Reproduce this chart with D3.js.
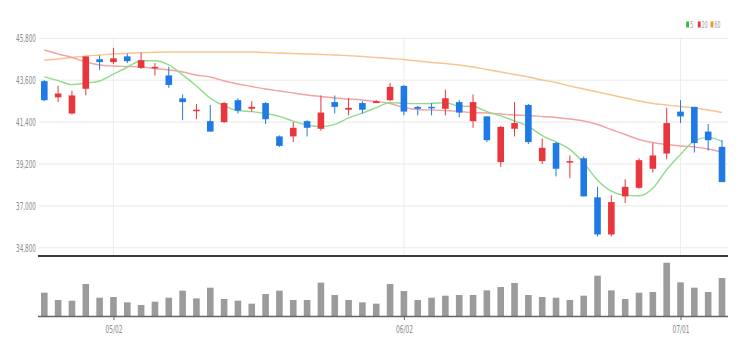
<!DOCTYPE html>
<html><head><meta charset="utf-8">
<script src="https://cdn.jsdelivr.net/npm/d3@7"></script>
<style>
html,body{margin:0;padding:0;background:#fff;}
svg{display:block;}
text{font-family:"Liberation Sans Narrow","DejaVu Sans Condensed","Liberation Sans",sans-serif;}
</style></head>
<body>
<svg id="chart" width="744" height="355"></svg>
<script>
const dates = ["04/25","04/26","04/27","04/28","04/29","05/02","05/03","05/04","05/06","05/09","05/10","05/11","05/12","05/13","05/16","05/17","05/18","05/19","05/20","05/23","05/24","05/25","05/26","05/27","05/30","05/31","06/02","06/03","06/07","06/08","06/09","06/10","06/13","06/14","06/15","06/16","06/17","06/20","06/21","06/22","06/23","06/24","06/27","06/28","06/29","06/30","07/01","07/04","07/05","07/06"];
const openP  = [43550,42700,41850,43150,44700,44550,44850,44250,44250,43850,42650,42000,41450,41400,42550,42100,42400,40650,40650,41450,41050,42450,42050,42400,42400,42550,43300,42200,42200,42100,42450,41450,41700,39300,41050,42300,39350,40300,39300,39500,37450,35500,37500,37950,38950,39750,41950,42200,40900,40100];
const highP  = [43600,43300,43050,44850,44900,45300,45000,45050,44500,44300,42850,42350,42300,42450,42650,42500,42450,40700,41400,41500,42800,42800,42650,42500,42550,43450,43350,42250,42400,43100,42550,42850,41700,41200,42450,42350,40550,40350,39650,39600,38000,37550,38400,39500,40300,42150,42550,42200,41300,40450];
const lowP   = [42500,42450,41800,42800,44150,44450,44500,44200,43850,43200,41500,41550,40900,41350,41850,41950,41300,40100,40350,40650,40950,41850,41750,41850,42400,42500,41750,41750,41750,41750,41650,41100,40350,39050,40650,40250,39200,38550,38450,37500,35400,35400,37150,37900,38750,39450,41350,39800,39900,38250];
const closeP = [42550,42900,42800,44850,44550,44750,44600,44650,44300,43350,42450,42050,40900,42400,42000,42200,41550,40150,41100,41100,41900,42200,42150,42050,42500,43250,41950,42100,42150,42650,41900,42450,40450,41150,41350,40350,40050,38950,39350,37500,35500,37200,38000,39400,39650,41350,41700,40300,40450,38250];
const volume = [700,480,460,960,550,570,410,330,430,550,760,530,850,510,460,370,660,760,480,480,1000,630,480,410,370,960,750,480,550,610,630,630,770,870,990,630,570,550,480,610,1210,770,510,700,720,1600,1010,850,720,1140];
const ma5  = [43780,43580,43370,43450,43560,43920,44280,44620,44620,44400,43880,43300,42650,42250,42000,41950,41850,41700,41450,41250,41160,41280,41620,41875,42160,42420,42390,42370,42380,42420,42240,42220,41950,41725,41465,41170,40690,40360,39970,39250,38350,37770,37550,37530,37930,38900,39700,40420,40600,40390];
const ma20 = [45186,44976,44792,44556,44398,44346,44320,44293,44215,44136,44031,43873,43768,43558,43401,43270,43138,43033,42928,42823,42745,42666,42613,42561,42482,42377,42167,42062,42036,42010,41957,41904,41878,41826,41773,41747,41694,41642,41563,41458,41274,41012,40749,40487,40329,40224,40146,40093,39988,39831];
const ma60 = [44661,44713,44792,44871,44923,44976,45012,45044,45070,45081,45081,45081,45081,45081,45081,45081,45054,45028,45002,44976,44949,44923,44886,44844,44792,44739,44687,44608,44529,44477,44398,44293,44162,44031,43900,43768,43611,43479,43296,43138,42981,42823,42666,42508,42377,42298,42219,42141,42036,41904];
const priceTicks = [34800,37000,39200,41400,43600,45800];
const dateTicks = ["05/02","06/02","07/01"];
const maNames = ["5","20","60"];

const svg = d3.select("#chart");
const left = 39, right = 728;
const x = d3.scalePoint().domain(dates).range([44.3, 722]);
const y = d3.scaleLinear().domain([34800, 45800]).range([247.8, 38.3]);
const yv = d3.scaleLinear().domain([0, 1600]).range([316, 262.7]);
const UP = "#e8363c", DOWN = "#1f7ae6";
const maColors = ["#8fdc8a", "#f4a2a2", "#f8c48f"];

// horizontal grid
svg.append("g").selectAll("line").data(priceTicks).join("line")
  .attr("x1", left).attr("x2", right)
  .attr("y1", d => y(d)).attr("y2", d => y(d))
  .attr("stroke", "#e9e9e9").attr("stroke-width", 1);
// vertical grid
svg.append("g").selectAll("line").data(dateTicks).join("line")
  .attr("x1", d => x(d)).attr("x2", d => x(d))
  .attr("y1", 38).attr("y2", 255)
  .attr("stroke", "#ececec").attr("stroke-width", 1);

// price axis labels
const yAxis = d3.axisLeft(y).tickValues(priceTicks).tickFormat(d3.format(",")).tickSize(0).tickPadding(0);
const ya = svg.append("g").attr("transform", "translate(36,0)").call(yAxis);
ya.select(".domain").remove();
ya.selectAll("text").attr("fill", "#8a8a8a").attr("font-size", "10px")
  .attr("textLength", 20).attr("lengthAdjust", "spacingAndGlyphs");

// MA lines
[ma60, ma20, ma5].forEach((arr, k) => {
  const col = [maColors[2], maColors[1], maColors[0]][k];
  svg.append("path").datum(arr)
    .attr("fill", "none").attr("stroke", col).attr("stroke-width", 1.4)
    .attr("d", d3.line().x((d, i) => x(dates[i])).y(d => y(d)).curve(d3.curveMonotoneX));
});

// candles
const cw = 6.6;
const cg = svg.append("g");
dates.forEach((d, i) => {
  const up = closeP[i] >= openP[i];
  const col = up ? UP : DOWN;
  cg.append("line").attr("x1", x(d)).attr("x2", x(d))
    .attr("y1", y(highP[i])).attr("y2", y(lowP[i]))
    .attr("stroke", col).attr("stroke-width", 1);
  const top = y(Math.max(openP[i], closeP[i]));
  const bot = y(Math.min(openP[i], closeP[i]));
  cg.append("rect").attr("x", x(d) - cw / 2).attr("y", top)
    .attr("width", cw).attr("height", Math.max(1.5, bot - top)).attr("fill", col);
});

// separator line
svg.append("line").attr("x1", 38).attr("x2", right).attr("y1", 256).attr("y2", 256)
  .attr("stroke", "#3a3a3a").attr("stroke-width", 2);

// volume bars
svg.append("g").selectAll("rect").data(volume).join("rect")
  .attr("x", (d, i) => x(dates[i]) - cw / 2).attr("y", d => yv(d))
  .attr("width", cw).attr("height", d => 316 - yv(d))
  .attr("fill", "#9b9b9b");

// volume baseline + x axis
const xAxis = d3.axisBottom(x).tickValues(dateTicks).tickSize(4).tickPadding(6);
const xa = svg.append("g").attr("transform", "translate(0,316)").call(xAxis);
xa.select(".domain").remove();
xa.selectAll(".tick line").attr("stroke", "#666");
xa.selectAll("text").attr("fill", "#8a8a8a").attr("font-size", "10px")
  .attr("textLength", 17).attr("lengthAdjust", "spacingAndGlyphs");
svg.append("line").attr("x1", 38).attr("x2", right).attr("y1", 316.5).attr("y2", 316.5)
  .attr("stroke", "#666").attr("stroke-width", 1.5);

// legend
const lg = svg.append("g");
const legX = [686.2, 697.8, 710.6];
const legColors = ["#3cba3c", "#e8363c", "#f0952e"];
maNames.forEach((n, k) => {
  lg.append("rect").attr("x", legX[k]).attr("y", 21.5).attr("width", 2.8).attr("height", 6).attr("fill", legColors[k]);
  lg.append("text").attr("x", legX[k] + 4).attr("y", 27.6).attr("font-size", "8.5px").attr("fill", "#999")
    .attr("textLength", n.length * 2.9).attr("lengthAdjust", "spacingAndGlyphs").text(n);
});
</script>
</body></html>
